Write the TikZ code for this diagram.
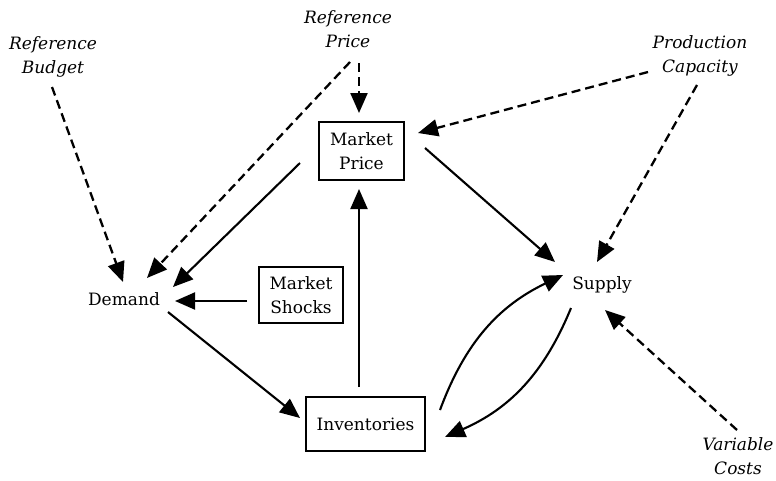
\documentclass[tikz,border=0pt]{standalone}
\usepackage{fontspec}
\setmainfont{DejaVu Serif}
\usetikzlibrary{arrows.meta,calc}

\begin{document}
\begin{tikzpicture}[x=1pt,y=-1pt,
  every node/.style={font=\fontsize{17}{24}\selectfont, align=center, inner sep=0pt},
  box/.style={draw, line width=2.6pt},
  lbl/.style={font=\fontsize{17}{24}\selectfont\itshape},
  arr/.style={line width=2.1pt, -{Triangle[length=20pt,width=17pt]}},
  darr/.style={arr, line width=2.3pt, dash pattern=on 9pt off 5pt},
]
\useasboundingbox (0,0) rectangle (776,480);

% exogenous inputs
\node[lbl] (refbudget) at (53,57)  {Reference\\Budget};
\node[lbl] (refprice)  at (348,29) {Reference\\Price};
\node[lbl] (prodcap)   at (700,56) {Production\\Capacity};
\node[lbl] (varcosts)  at (738,456) {Variable\\Costs};

% main variables
\node[box, minimum width=85pt, minimum height=58pt] (mprice) at (361.5,151) {Market\\Price};
\node[box, minimum width=84pt, minimum height=56pt] (shocks) at (301,295) {Market\\Shocks};
\node[box, minimum width=119pt, minimum height=54pt] (inv) at (365.5,424) {Inventories};
\node (demand) at (124,299) {Demand};
\node (supply) at (602,285) {Supply};

% dashed influences
\draw[darr] ($(refbudget)+(-1,30)$) -- ($(demand)+(-1,-17)$);
\draw[darr] ($(refprice)+(2,33)$) -- ($(demand)+(23,-21)$);
\draw[darr] ($(refprice)+(11,34)$) -- ($(mprice)+(-2.5,-38)$);
\draw[darr] ($(prodcap)+(-52,16)$) -- ($(mprice)+(56.5,-18)$);
\draw[darr] ($(prodcap)+(-3,29)$) -- ($(supply)+(-5,-23)$);
\draw[darr] ($(varcosts)+(-1,-26)$) -- ($(supply)+(3,25)$);

% solid links
\draw[arr] ($(mprice)+(-61.5,12)$) -- ($(demand)+(49,-12)$);
\draw[arr] ($(mprice)+(63.5,-3)$) -- ($(supply)+(-47,-23)$);
\draw[arr] ($(shocks)+(-54,6)$) -- ($(demand)+(51,2)$);
\draw[arr] ($(demand)+(44,13)$) -- ($(inv)+(-65.5,-6)$);
\draw[arr] ($(inv)+(-6.5,-37)$) -- ($(mprice)+(-2.5,38)$);
\draw[arr] ($(inv)+(74.5,-14)$) to[bend left=22] ($(supply)+(-39,-10)$);
\draw[arr] ($(supply)+(-31,23)$) to[bend left=22] ($(inv)+(79.5,13)$);
\end{tikzpicture}
\end{document}
